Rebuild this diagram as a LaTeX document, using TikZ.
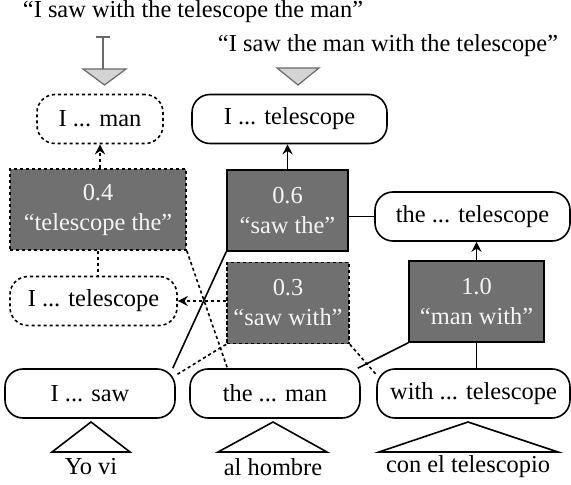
\documentclass[tikz,border=0pt]{standalone}
\usepackage{fontspec}
\setmainfont{Liberation Serif}
\usetikzlibrary{positioning,calc,arrows.meta}
\definecolor{ruleFill}{RGB}{112,112,112}
\definecolor{ruleText}{RGB}{245,245,245}
\definecolor{outFill}{RGB}{212,212,212}
\definecolor{outLine}{RGB}{105,105,105}
\newcommand*{\qt}[1]{“#1”}
\tikzset{
  phrase/.style={draw,line width=0.8pt,rounded corners=9pt,inner sep=0pt,minimum height=24.5pt},
  rulebox/.style={draw,line width=0.8pt,fill=ruleFill,text=ruleText,align=center,inner sep=0pt,minimum height=40.5pt},
  pruned/.style={dash pattern=on 1.6pt off 1.4pt},
  link/.style={line width=0.8pt},
  up/.style={link,-{Stealth[length=5pt,width=5pt]}},
  outtri/.style={draw=outLine,fill=outFill,line width=0.6pt},
  srctri/.style={draw,line width=0.8pt}
}

\begin{document}
\begin{tikzpicture}[x=0.5pt,y=-0.5pt,font=\fontsize{12.2}{15}\selectfont]
\useasboundingbox (0,0) rectangle (571,485);
% Target sentences
\node (outA) at (193,12) {\qt{I saw with the telescope the man}};
\node (outB) at (388,46) {\qt{I saw the man with the telescope}};
% Output markers
\draw[outLine,line width=0.7pt] (96,37) -- (110,37) (103,37) -- (103,69);
\draw[outtri] (83,69) -- (126,69) -- (104.5,85) -- cycle;
\draw[outtri] (277,68) -- (319,68) -- (298,85) -- cycle;
% Top hypotheses
\node[phrase,pruned,minimum width=63pt] (Iman) at (100,119) {I ... man};
\node[phrase,minimum width=97.5pt] (Itel) at (289.5,119) {I ... telescope};
% Rules and middle hypotheses
\node[rulebox,pruned,minimum width=88pt] (rTelThe) at (98,209.5) {0.4\\\qt{telescope the}};
\node[rulebox,minimum width=60.5pt] (rSawThe) at (287.5,210.5) {0.6\\\qt{saw the}};
\node[phrase,minimum width=97.5pt] (theTel) at (472.5,216.5) {the ... telescope};
\node[phrase,pruned,minimum width=83.5pt] (ItelB) at (93.5,301) {I ... telescope};
\node[rulebox,pruned,minimum width=61pt] (rSawWith) at (288,303) {0.3\\\qt{saw with}};
\node[rulebox,minimum width=67.5pt] (rManWith) at (476.5,301.5) {1.0\\\qt{man with}};
% Bottom hypotheses
\node[phrase,minimum width=85pt] (Isaw) at (90,393.5) {I ... saw};
\node[phrase,minimum width=85pt] (theMan) at (275,393.5) {the ... man};
\node[phrase,minimum width=96.5pt] (withTel) at (473.5,393.5) {with ... telescope};
% Source words
\node (yoVi) at (91,467) {Yo vi};
\node (alHombre) at (273,467) {al hombre};
\node (conTel) at (468,467) {con el telescopio};
\draw[srctri] (52,452) -- (91,422) -- (130,452) -- cycle;
\draw[srctri] (218,452) -- (273,422) -- (327,452) -- cycle;
\draw[srctri] (379,452) -- (468,422) -- (558,452) -- cycle;
% Solid derivation
\draw[up] (rSawThe.north) -- (rSawThe.north |- Itel.south);
\draw[link] (rSawThe.east |- theTel.west) -- (theTel.west);
\draw[up] (rManWith.north) -- (rManWith.north |- theTel.south);
\draw[link] (rManWith.south) -- (rManWith.south |- withTel.north);
\draw[link] (rManWith.south west) -- (theMan.17);
\draw[link] (rSawThe.south west) -- (Isaw.17);
% Pruned derivation
\draw[up,pruned] (Iman.south |- rTelThe.north) -- (Iman.south);
\draw[link,pruned] (rTelThe.south) -- (rTelThe.south |- ItelB.north);
\draw[link,pruned] (rTelThe.south east) -- (theMan.152);
\draw[up,pruned] (rSawWith.west |- ItelB.east) -- (ItelB.east);
\draw[link,pruned] (rSawWith.south west) -- (Isaw.12);
\draw[link,pruned] (rSawWith.south east) -- (withTel.169);
\end{tikzpicture}
\end{document}
